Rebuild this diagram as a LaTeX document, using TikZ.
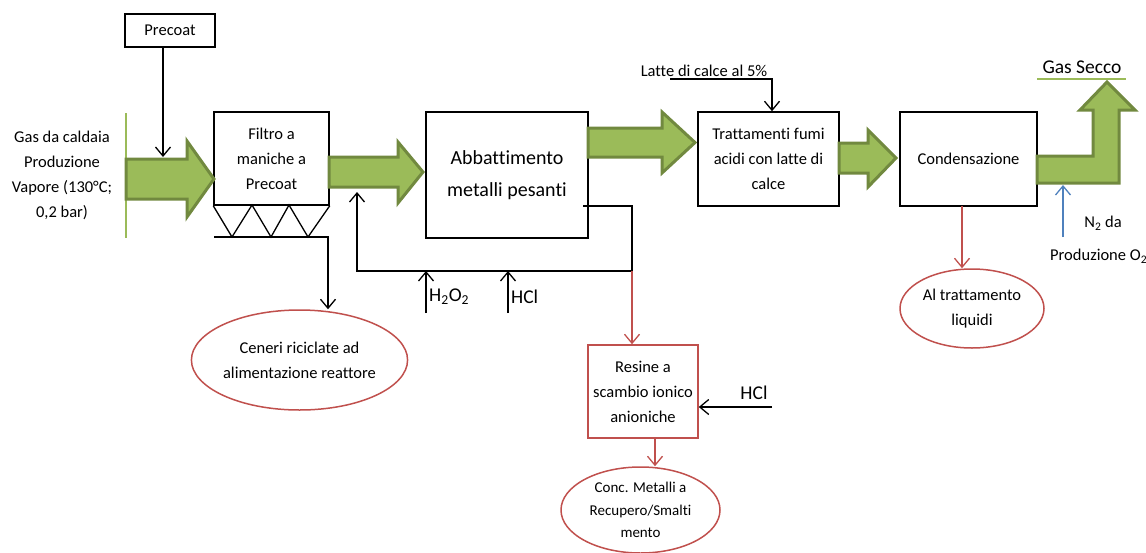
\documentclass[tikz,border=0pt]{standalone}
\usepackage{fontspec}
\setmainfont{Carlito}[RawFeature={-liga;-clig;-dlig;-calt}]
\usetikzlibrary{arrows.meta,shapes.geometric}

\definecolor{garrow}{HTML}{9BBB59}
\definecolor{gborder}{HTML}{71893F}
\definecolor{rline}{HTML}{C0504D}
\definecolor{bline}{HTML}{4F81BD}

\tikzset{
  box/.style={draw, line width=1.5pt, inner sep=0pt, align=center, font=\fontsize{16.5}{25}\selectfont},
  redbox/.style={box, draw=rline},
  outlet/.style={ellipse, draw=rline, line width=1.5pt, inner sep=0pt, align=center, font=\fontsize{16.5}{25}\selectfont},
  lbl/.style={inner sep=0pt, align=center, font=\fontsize{16.5}{25}\selectfont},
  biglbl/.style={inner sep=0pt, font=\fontsize{19.5}{24}\selectfont},
  fatarrow/.style={fill=garrow, draw=gborder, line width=3pt},
  conn/.style={line width=1.3pt, -{Straight Barb[length=9pt,width=15pt]}},
  redconn/.style={conn, draw=rline},
  blueconn/.style={conn, draw=bline}
}

\begin{document}
\begin{tikzpicture}[x=1pt,y=-1pt]
\useasboundingbox (0,0) rectangle (1146,552);

% process blocks
\node[box, minimum width=90pt, minimum height=33pt] (precoat) at (170,30.5) {Precoat};
\node[box, minimum width=115pt, minimum height=93pt] (filtro) at (271.5,158.5) {Filtro a\\maniche a\\Precoat};
\node[box, minimum width=162pt, minimum height=126pt, font=\fontsize{20}{32}\selectfont] (abbatt) at (507,175) {Abbattimento\\metalli pesanti};
\node[box, minimum width=141pt, minimum height=94pt] (tratt) at (768.5,159) {Trattamenti fumi\\acidi con latte di\\calce};
\node[box, minimum width=137pt, minimum height=94pt] (cond) at (968.5,159) {Condensazione};
\node[redbox, minimum width=110pt, minimum height=93pt] (resine) at (643,391.5) {Resine a\\scambio ionico\\anioniche};

% outlets
\node[outlet, minimum width=216pt, minimum height=100pt] (ceneri) at (299.5,360) {Ceneri riciclate ad\\alimentazione reattore};
\node[outlet, minimum width=144pt, minimum height=79pt] (altratt) at (972,308.5) {Al trattamento\\liquidi};
\node[outlet, minimum width=159pt, minimum height=86pt, font=\fontsize{15}{22.5}\selectfont] (conc) at (640.5,510) {Conc. Metalli a\\Recupero/Smalti\\mento};

% labels
\node[lbl] (gasin) at (62,175) {Gas da caldaia\\Produzione\\Vapore (130°C;\\0,2 bar)};
\node[lbl] (latte) at (704,71) {Latte di calce al 5\%};
\node[biglbl] (secco) at (1082,67) {Gas Secco};
\node[lbl] (ntwo) at (1103,223) {N\textsubscript{2} da};
\node[lbl, anchor=west] (prodo) at (1050,256) {Produzione O\textsubscript{2}};
\node[biglbl, anchor=west] (hto) at (429,297) {H\textsubscript{2}O\textsubscript{2}};
\node[biglbl, anchor=west] (hcltwo) at (511,297) {HCl};
\node[biglbl] (hclthree) at (754,393) {HCl};

% gas line
\draw[garrow, line width=2pt] (126,113) -- (126,238);
\draw[garrow, line width=1.2pt] (1037,79) -- (1126,79);
\draw[fatarrow] (126,159) -- (187,159) -- (187,141) -- (214,179) -- (187,217) -- (187,199) -- (126,199) -- cycle;
\draw[fatarrow] (329,157) -- (398,157) -- (398,142) -- (423,172) -- (398,203) -- (398,187) -- (329,187) -- cycle;
\draw[fatarrow] (588,128) -- (662,128) -- (662,112) -- (695,142.5) -- (662,173) -- (662,157) -- (588,157) -- cycle;
\draw[fatarrow] (839,143) -- (868,143) -- (868,130) -- (896,158) -- (868,187) -- (868,173) -- (839,173) -- cycle;
\draw[fatarrow] (1037,156) -- (1093,156) -- (1093,110) -- (1080,110) -- (1107,82) -- (1135,110) -- (1119,110) -- (1119,183) -- (1037,183) -- cycle;

% hopper
\draw[line width=1.3pt] (filtro.south west) -- (232,237) -- (252,205) -- (271,237) -- (289,205) -- (308,237) -- (filtro.south east);
\coordinate (hopl) at (214,237);
\coordinate (hopr) at (328,237);
\draw[conn] (hopl) -- (hopr) -- (hopr |- ceneri.north);

% feeds
\coordinate (pcin) at (163,157);
\draw[conn] (precoat.south -| pcin) -- (pcin);
\coordinate (lattea) at (670,79);
\coordinate (latteb) at (772,79);
\draw[conn] (lattea) -- (latteb) -- (latteb |- tratt.north);

% recycle loop
\coordinate (outa) at (583,206);
\coordinate (outb) at (632,206);
\coordinate (outc) at (632,271);
\coordinate (retb) at (357,271);
\coordinate (reta) at (357,192);
\draw[conn] (outa) -- (outb) -- (outc) -- (retb) -- (reta);
\coordinate (htoin) at (426,313);
\coordinate (hclin) at (508,313);
\draw[conn] (htoin) -- (htoin |- outc);
\draw[conn] (hclin) -- (hclin |- outc);

% liquid streams
\draw[redconn] (outc) -- (outc |- resine.north);
\coordinate (resout) at (655,438);
\draw[redconn] (resout) -- (resout |- conc.north);
\coordinate (hclr) at (772,407);
\draw[conn] (hclr) -- (hclr -| resine.east);
\coordinate (condout) at (962,206);
\draw[redconn] (condout) -- (condout |- altratt.north);
\coordinate (nin) at (1063,237);
\draw[blueconn] (nin) -- (1063,185);
\end{tikzpicture}
\end{document}
